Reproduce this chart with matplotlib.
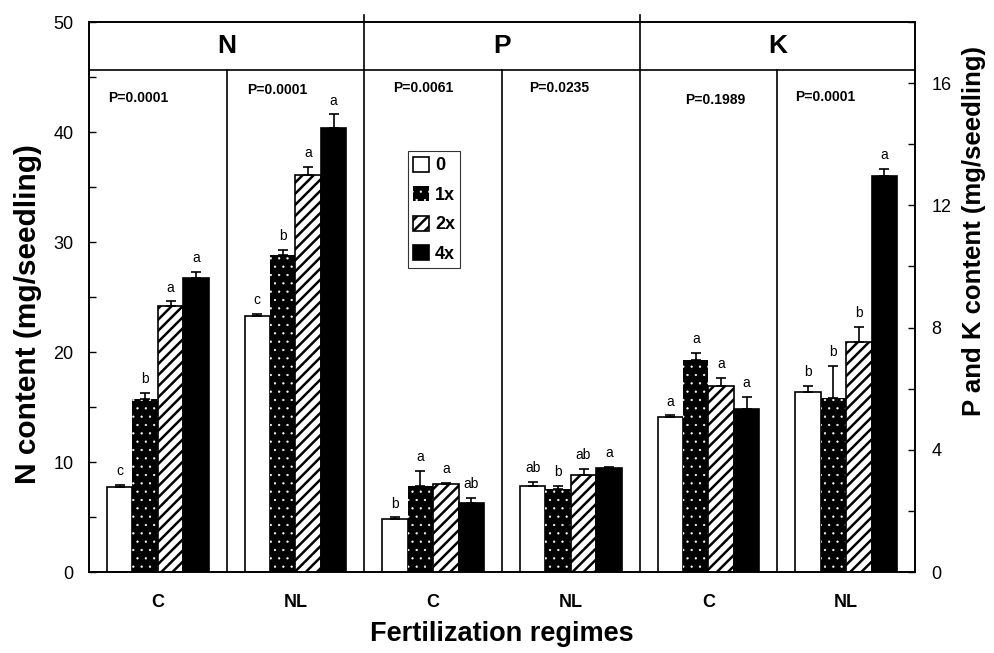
import matplotlib.pyplot as plt
from matplotlib.ticker import MultipleLocator

plt.rcParams['font.family'] = ['Liberation Sans', 'DejaVu Sans']
plt.rcParams['hatch.linewidth'] = 1.8

groups = ["C", "NL", "C", "NL", "C", "NL"]
nutrients = ["N", "P", "K"]
levels = ["0", "1x", "2x", "4x"]

# N content (mg/seedling), left axis: C, NL
n_means = [[7.7, 15.7, 24.2, 26.7],
           [23.3, 28.8, 36.1, 40.4]]
n_errs = [[0.2, 0.6, 0.4, 0.6],
          [0.2, 0.5, 0.7, 1.2]]

# P and K content (mg/seedling), right axis: P-C, P-NL, K-C, K-NL
pk_means = [[1.74, 2.82, 2.87, 2.26],
            [2.82, 2.72, 3.18, 3.41],
            [5.08, 6.95, 6.10, 5.34],
            [5.90, 5.70, 7.54, 12.95]]
pk_errs = [[0.05, 0.50, 0.04, 0.17],
           [0.13, 0.10, 0.20, 0.02],
           [0.05, 0.23, 0.26, 0.40],
           [0.20, 1.05, 0.49, 0.25]]

letters = [["c", "b", "a", "a"],
           ["c", "b", "a", "a"],
           ["b", "a", "a", "ab"],
           ["ab", "b", "ab", "a"],
           ["a", "a", "a", "a"],
           ["b", "b", "b", "a"]]

p_values = ["P=0.0001", "P=0.0001", "P=0.0061", "P=0.0235", "P=0.1989", "P=0.0001"]
p_x = [0.14, 1.15, 2.21, 3.20, 4.33, 5.13]
p_y = [0.862, 0.876, 0.880, 0.880, 0.858, 0.864]

bar_styles = [
    dict(color="white", edgecolor="black", linewidth=1.2),
    dict(color="black", edgecolor="white", hatch="..", linewidth=0),
    dict(color="white", edgecolor="black", hatch="///", linewidth=1.2),
    dict(color="black", edgecolor="black", linewidth=1.2),
]
hatch_lw = [1.8, 0.4, 1.8, 1.8]

fig = plt.figure(figsize=(9.95, 6.53), dpi=100)
ax = fig.add_axes([0.0894, 0.1240, 0.8302, 0.8423])
ax2 = ax.twinx()

width = 0.185
handles = []
for g in range(6):
    target = ax if g < 2 else ax2
    means = n_means[g] if g < 2 else pk_means[g - 2]
    errs = n_errs[g] if g < 2 else pk_errs[g - 2]
    for i in range(4):
        x = g + 0.5 + (i - 1.5) * width
        with plt.rc_context({"hatch.linewidth": hatch_lw[i]}):
            b = target.bar(x, means[i], width, **bar_styles[i], label=levels[i])
        if g == 0:
            handles.append(b)
        target.errorbar(x, means[i], yerr=[[0], [errs[i]]], fmt="none",
                        ecolor="black", elinewidth=1.2, capsize=3.5, capthick=1.2)
        target.annotate(letters[g][i], (x, means[i] + errs[i]), xytext=(0, 7),
                        textcoords="offset points", ha="center", va="baseline",
                        fontsize=10)

ax.set_xlim(0, 6)
ax.set_ylim(0, 50)
ax2.set_ylim(0, 18)

ax.yaxis.set_major_locator(MultipleLocator(10))
ax.yaxis.set_minor_locator(MultipleLocator(5))
ax2.yaxis.set_major_locator(MultipleLocator(4))
ax2.yaxis.set_minor_locator(MultipleLocator(2))
ax.tick_params(axis="y", which="both", direction="in", length=5, width=1, labelsize=13, pad=11)
ax2.tick_params(axis="y", which="both", direction="in", length=5, width=1, labelsize=13, pad=12)
ax.set_xticks([g + 0.5 for g in range(6)], groups, fontweight="bold", fontsize=13)
ax.tick_params(axis="x", length=0, pad=16)

for a in (ax, ax2):
    for s in a.spines.values():
        s.set_linewidth(1.2)

ax.set_ylabel("N content (mg/seedling)", fontsize=21.5, fontweight="bold")
ax.yaxis.set_label_coords(-0.057, 0.469)
ax2.set_ylabel("P and K content (mg/seedling)", fontsize=18.5, fontweight="bold")
ax2.yaxis.set_label_coords(1.057, 0.62)
ax.set_xlabel("Fertilization regimes", fontsize=19.5, fontweight="bold", labelpad=7)

# header band and panel dividers
trans = ax.get_xaxis_transform()
header = 0.913
ax.plot([0, 6], [header, header], color="black", lw=1.2, transform=trans, clip_on=False)
for xd in (2, 4):
    ax.plot([xd, xd], [0, 1.012], color="black", lw=1.2, transform=trans, clip_on=False)
for xd in (1, 3, 5):
    ax.plot([xd, xd], [0, header], color="black", lw=1.2, transform=trans, clip_on=False)
for k, name in enumerate(nutrients):
    ax.text(2 * k + 1, 0.956, name, transform=trans, ha="center", va="center",
            fontsize=19, fontweight="bold")
for k, txt in enumerate(p_values):
    ax.text(p_x[k], p_y[k], txt, transform=trans, ha="left", va="center",
            fontsize=10, fontweight="bold")

leg = ax2.legend(handles=handles, labels=levels, loc="upper left",
                 bbox_to_anchor=(0.386, 0.765), borderaxespad=0, frameon=True,
                 fancybox=False, edgecolor="black", prop=dict(weight="bold", size=13),
                 handlelength=0.9, handleheight=0.9, handletextpad=0.3,
                 labelspacing=0.65, borderpad=0.3)
leg.get_frame().set_linewidth(0.8)
dot_handle = leg.legend_handles[1]
if hasattr(dot_handle, "set_hatch_linewidth"):
    dot_handle.set_hatch_linewidth(0.4)
else:
    dot_handle._hatch_linewidth = 0.4

fig.savefig("out.png", dpi=100)
